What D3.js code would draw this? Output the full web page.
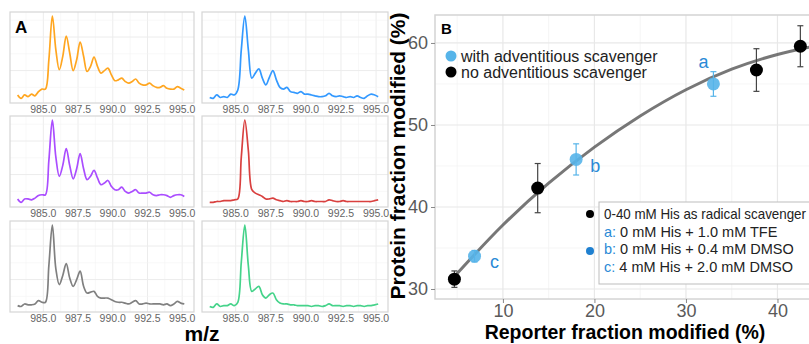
<!DOCTYPE html>
<html>
<head>
<meta charset="utf-8">
<script src="https://cdn.jsdelivr.net/npm/d3@7"></script>
<style>
  body { margin: 0; background: #fff; }
  svg { display: block; font-family: "Liberation Sans", Arial, sans-serif; }
</style>
</head>
<body>
<svg id="chart" width="809" height="344"></svg>
<script>
// ---- panel A data: m/z grid and relative intensities
var mz = [983.15, 983.4, 983.65, 983.9, 984.15, 984.4, 984.65, 984.9, 985.15, 985.4,
  985.65, 985.9, 986.15, 986.4, 986.65, 986.9, 987.15, 987.4, 987.65, 987.9,
  988.15, 988.4, 988.65, 988.9, 989.15, 989.4, 989.65, 989.9, 990.15, 990.4,
  990.65, 990.9, 991.15, 991.4, 991.65, 991.9, 992.15, 992.4, 992.65, 992.9,
  993.15, 993.4, 993.65, 993.9, 994.15, 994.4, 994.65, 994.9, 995.15];

var orangeSpec = [0.06, 0.02, 0.06, 0.04, 0.07, 0.05, 0.10, 0.13, 0.13, 0.48,
  1.00, 0.60, 0.36, 0.52, 0.76, 0.56, 0.35, 0.48, 0.69, 0.52,
  0.34, 0.40, 0.51, 0.40, 0.32, 0.35, 0.38, 0.30, 0.23, 0.24,
  0.26, 0.22, 0.20, 0.22, 0.25, 0.20, 0.18, 0.18, 0.20, 0.17,
  0.15, 0.15, 0.17, 0.14, 0.13, 0.13, 0.16, 0.14, 0.12];
var blueSpec = [0.03, 0.02, 0.06, 0.03, 0.04, 0.03, 0.07, 0.06, 0.12, 0.60,
  1.00, 0.60, 0.26, 0.32, 0.37, 0.26, 0.18, 0.27, 0.35, 0.24,
  0.15, 0.13, 0.15, 0.10, 0.09, 0.08, 0.10, 0.07, 0.07, 0.06,
  0.05, 0.04, 0.04, 0.05, 0.08, 0.05, 0.04, 0.05, 0.04, 0.03,
  0.04, 0.03, 0.05, 0.03, 0.02, 0.05, 0.07, 0.06, 0.04];
var purpleSpec = [0.06, 0.02, 0.06, 0.06, 0.05, 0.07, 0.10, 0.11, 0.11, 0.52,
  1.00, 0.56, 0.33, 0.46, 0.66, 0.46, 0.30, 0.42, 0.60, 0.42,
  0.29, 0.33, 0.40, 0.31, 0.23, 0.25, 0.28, 0.21, 0.17, 0.17,
  0.20, 0.15, 0.13, 0.15, 0.17, 0.13, 0.13, 0.13, 0.14, 0.11,
  0.10, 0.11, 0.11, 0.10, 0.08, 0.10, 0.11, 0.11, 0.09];
var redSpec = [0.02, 0.02, 0.03, 0.03, 0.04, 0.04, 0.04, 0.05, 0.06, 0.56,
  1.00, 0.64, 0.17, 0.13, 0.11, 0.09, 0.06, 0.06, 0.07, 0.05,
  0.04, 0.03, 0.04, 0.03, 0.03, 0.03, 0.04, 0.03, 0.03, 0.04,
  0.03, 0.03, 0.03, 0.03, 0.05, 0.04, 0.03, 0.03, 0.04, 0.03,
  0.03, 0.03, 0.03, 0.03, 0.03, 0.03, 0.03, 0.04, 0.05];
var greySpec = [0.04, 0.03, 0.06, 0.05, 0.05, 0.06, 0.10, 0.08, 0.08, 0.52,
  1.00, 0.48, 0.29, 0.40, 0.54, 0.37, 0.27, 0.35, 0.45, 0.27,
  0.19, 0.20, 0.21, 0.15, 0.13, 0.13, 0.13, 0.11, 0.09, 0.08,
  0.08, 0.07, 0.06, 0.08, 0.10, 0.06, 0.06, 0.07, 0.06, 0.06,
  0.06, 0.06, 0.05, 0.06, 0.04, 0.06, 0.09, 0.07, 0.06];
var greenSpec = [0.03, 0.02, 0.06, 0.03, 0.04, 0.04, 0.06, 0.04, 0.08, 0.56,
  1.00, 0.52, 0.21, 0.24, 0.27, 0.17, 0.13, 0.17, 0.19, 0.11,
  0.07, 0.06, 0.06, 0.05, 0.05, 0.04, 0.04, 0.04, 0.04, 0.03,
  0.04, 0.04, 0.03, 0.04, 0.06, 0.04, 0.04, 0.04, 0.03, 0.04,
  0.04, 0.03, 0.04, 0.04, 0.03, 0.04, 0.04, 0.05, 0.06];

var spectra = [orangeSpec, blueSpec, purpleSpec, redSpec, greySpec, greenSpec];
var specColors = ["#ffa620", "#3399ff", "#aa4dff", "#d9403f", "#808080", "#45d38a"];
var mzTicks = [985.0, 987.5, 990.0, 992.5, 995.0];

// ---- panel B data
var reporter = [4.7, 6.9, 13.8, 18.0, 33.0, 37.7, 42.5];
var protein  = [31.2, 34.0, 42.3, 45.8, 55.0, 56.7, 59.6];
var protErr  = [1.0, 0.7, 3.0, 1.9, 1.5, 2.6, 2.5];
var scavenger = ["no", "with", "no", "with", "with", "no", "no"];
var pointTags = ["", "c", "", "b", "a", "", ""];

var fitX = [4.6, 10, 15, 20, 25, 30, 35, 40, 43.5];
var fitY = [31.4, 37.8, 42.9, 47.3, 51.1, 54.3, 56.8, 58.6, 59.5];

var xTicksB = [10, 20, 30, 40];
var yTicksB = [30, 40, 50, 60];

var svg = d3.select("#chart");

// ================= panel A =================
var cols = [10, 202], colW = [184, 186];
var rows = [12, 116, 221], rowH = 91;

spectra.forEach(function(spec, i) {
  var c = i % 2, r = Math.floor(i / 2);
  var left = cols[c], top = rows[r], w = colW[c];
  var x = d3.scaleLinear().domain([982.6, 995.85]).range([left, left + w]);
  var y = d3.scaleLinear().domain([0, 1]).range([top + 88, top + 4]);
  var g = svg.append("g");

  // minor + major grid
  var minor = [983.75, 986.25, 988.75, 991.25, 993.75];
  g.selectAll(".vmin").data(minor).enter().append("line")
    .attr("x1", d => x(d)).attr("x2", d => x(d))
    .attr("y1", top).attr("y2", top + rowH)
    .attr("stroke", "#f4f4f4").attr("stroke-width", 0.6);
  g.selectAll(".vmaj").data(mzTicks).enter().append("line")
    .attr("x1", d => x(d)).attr("x2", d => x(d))
    .attr("y1", top).attr("y2", top + rowH)
    .attr("stroke", "#ececec").attr("stroke-width", 1);
  g.selectAll(".hmin").data([0.15, 0.55, 0.95]).enter().append("line")
    .attr("x1", left).attr("x2", left + w)
    .attr("y1", d => y(d)).attr("y2", d => y(d))
    .attr("stroke", "#f4f4f4").attr("stroke-width", 0.6);
  g.selectAll(".hmaj").data([0.35, 0.75]).enter().append("line")
    .attr("x1", left).attr("x2", left + w)
    .attr("y1", d => y(d)).attr("y2", d => y(d))
    .attr("stroke", "#ececec").attr("stroke-width", 1);

  g.append("rect")
    .attr("x", left).attr("y", top).attr("width", w).attr("height", rowH)
    .attr("fill", "none").attr("stroke", "#d6d6d6").attr("stroke-width", 1.2);

  var line = d3.line()
    .x(function(d, k) { return x(mz[k]); })
    .y(function(d) { return y(d); })
    .curve(d3.curveCatmullRom.alpha(0.5));
  g.append("path")
    .datum(spec)
    .attr("d", line)
    .attr("fill", "none")
    .attr("stroke", specColors[i])
    .attr("stroke-width", 1.7)
    .attr("stroke-linejoin", "round");

  g.selectAll(".tl").data(mzTicks).enter().append("text")
    .attr("x", d => x(d)).attr("y", top + rowH + 10)
    .attr("text-anchor", "middle")
    .attr("font-size", 10.5).attr("fill", "#666")
    .text(d => d.toFixed(1));
});

svg.append("text").attr("x", 15).attr("y", 33)
  .attr("font-size", 17).attr("font-weight", "bold").text("A");
svg.append("text").attr("x", 202).attr("y", 341)
  .attr("text-anchor", "middle")
  .attr("font-size", 21).attr("font-weight", "bold").text("m/z");

// ================= panel B =================
var bL = 435, bT = 15, bR = 815, bB = 299;
var xb = d3.scaleLinear().domain([2.58, 44.1]).range([bL, bR]);
var yb = d3.scaleLinear().domain([28.78, 63.41]).range([bB, bT]);
var gb = svg.append("g");

var xMinor = [5, 15, 25, 35], yMinor = [35, 45, 55];
gb.selectAll(".bxm").data(xMinor).enter().append("line")
  .attr("x1", d => xb(d)).attr("x2", d => xb(d)).attr("y1", bT).attr("y2", bB)
  .attr("stroke", "#f3f3f3").attr("stroke-width", 0.8);
gb.selectAll(".bym").data(yMinor).enter().append("line")
  .attr("x1", bL).attr("x2", bR).attr("y1", d => yb(d)).attr("y2", d => yb(d))
  .attr("stroke", "#f3f3f3").attr("stroke-width", 0.8);
gb.selectAll(".bxM").data(xTicksB).enter().append("line")
  .attr("x1", d => xb(d)).attr("x2", d => xb(d)).attr("y1", bT).attr("y2", bB)
  .attr("stroke", "#e8e8e8").attr("stroke-width", 1.2);
gb.selectAll(".byM").data(yTicksB).enter().append("line")
  .attr("x1", bL).attr("x2", bR).attr("y1", d => yb(d)).attr("y2", d => yb(d))
  .attr("stroke", "#e8e8e8").attr("stroke-width", 1.2);

gb.append("rect").attr("x", bL).attr("y", bT)
  .attr("width", bR - bL).attr("height", bB - bT)
  .attr("fill", "none").attr("stroke", "#d4d4d4").attr("stroke-width", 1.5);

// axes
var xAxis = d3.axisBottom(xb).tickValues(xTicksB).tickSize(4).tickPadding(1);
var yAxis = d3.axisLeft(yb).tickValues(yTicksB).tickSize(4).tickPadding(3);
var gx = gb.append("g").attr("transform", "translate(0," + bB + ")").call(xAxis);
var gy = gb.append("g").attr("transform", "translate(" + bL + ",0)").call(yAxis);
[gx, gy].forEach(function(a) {
  a.select(".domain").remove();
  a.selectAll(".tick line").attr("stroke", "#888");
  a.selectAll(".tick text").attr("font-size", 18).attr("fill", "#5a5a5a")
    .attr("font-family", "Liberation Sans, Arial, sans-serif");
});

svg.append("text").attr("x", 625).attr("y", 339)
  .attr("text-anchor", "middle").attr("font-size", 19.5).attr("font-weight", "bold")
  .text("Reporter fraction modified (%)");
svg.append("text")
  .attr("transform", "translate(405,156) rotate(-90)")
  .attr("text-anchor", "middle").attr("font-size", 21).attr("font-weight", "bold")
  .text("Protein fraction modified (%)");

svg.append("text").attr("x", 441).attr("y", 34)
  .attr("font-size", 15).attr("font-weight", "bold").text("B");

// fit curve
var fitLine = d3.line()
  .x(function(d, k) { return xb(fitX[k]); })
  .y(function(d) { return yb(d); })
  .curve(d3.curveMonotoneX);
gb.append("path").datum(fitY).attr("d", fitLine)
  .attr("fill", "none").attr("stroke", "#555").attr("stroke-opacity", 0.8)
  .attr("stroke-width", 3);

// error bars + points
var idx = d3.range(reporter.length);
var ptCol = function(k) { return scavenger[k] === "with" ? "#56b4e9" : "#000"; };
var barCol = function(k) { return scavenger[k] === "with" ? "#56b4e9" : "#444"; };
idx.forEach(function(k) {
  var cx = xb(reporter[k]);
  var y1 = yb(protein[k] + protErr[k]), y2 = yb(protein[k] - protErr[k]);
  gb.append("line").attr("x1", cx).attr("x2", cx).attr("y1", y1).attr("y2", y2)
    .attr("stroke", barCol(k)).attr("stroke-width", 1.2);
  [y1, y2].forEach(function(yy) {
    gb.append("line").attr("x1", cx - 3).attr("x2", cx + 3).attr("y1", yy).attr("y2", yy)
      .attr("stroke", barCol(k)).attr("stroke-width", 1.2);
  });
});
gb.selectAll(".pt").data(idx).enter().append("circle")
  .attr("cx", k => xb(reporter[k])).attr("cy", k => yb(protein[k]))
  .attr("r", 6.5).attr("fill", k => ptCol(k))
  .attr("fill-opacity", k => scavenger[k] === "with" ? 0.9 : 1);

// a / b / c tags
var tagOffset = { a: [-10, -16, "middle"], b: [14, 13, "start"], c: [20, 12, "middle"] };
gb.selectAll(".tag").data(idx.filter(k => pointTags[k])).enter().append("text")
  .attr("x", k => xb(reporter[k]) + tagOffset[pointTags[k]][0])
  .attr("y", k => yb(protein[k]) + tagOffset[pointTags[k]][1])
  .attr("text-anchor", k => tagOffset[pointTags[k]][2])
  .attr("font-size", 18).attr("fill", "#2a8ad6")
  .text(k => pointTags[k]);

// top legend
var legTop = [["#56b4e9", "with adventitious scavenger"], ["#000", "no adventitious scavenger"]];
legTop.forEach(function(d, i) {
  svg.append("circle").attr("cx", 451).attr("cy", 56 + i * 16).attr("r", 5.5).attr("fill", d[0]);
  svg.append("text").attr("x", 461).attr("y", 62 + i * 16)
    .attr("font-size", 16).attr("fill", "#222").text(d[1]);
});

// bottom legend
svg.append("rect").attr("x", 599).attr("y", 202).attr("width", 240).attr("height", 82)
  .attr("fill", "#fff").attr("stroke", "#bdbdbd").attr("stroke-width", 1);
var legBot = [["", "0-40 mM His as radical scavenger"], ["a:", " 0 mM His + 1.0 mM TFE"],
  ["b:", " 0 mM His + 0.4 mM DMSO"], ["c:", " 4 mM His + 2.0 mM DMSO"]];
legBot.forEach(function(d, i) {
  var t = svg.append("text").attr("x", 604).attr("y", 219 + i * 17.6)
    .attr("font-size", 14.5).attr("fill", "#222");
  if (i === 0) t.attr("textLength", 202).attr("lengthAdjust", "spacingAndGlyphs");
  if (d[0]) t.append("tspan").attr("fill", "#2a8ad6").text(d[0]);
  t.append("tspan").text(d[1]);
});
svg.append("circle").attr("cx", 590).attr("cy", 214).attr("r", 4).attr("fill", "#000");
svg.append("circle").attr("cx", 590).attr("cy", 251).attr("r", 4).attr("fill", "#1f80d0");
</script>
</body>
</html>
